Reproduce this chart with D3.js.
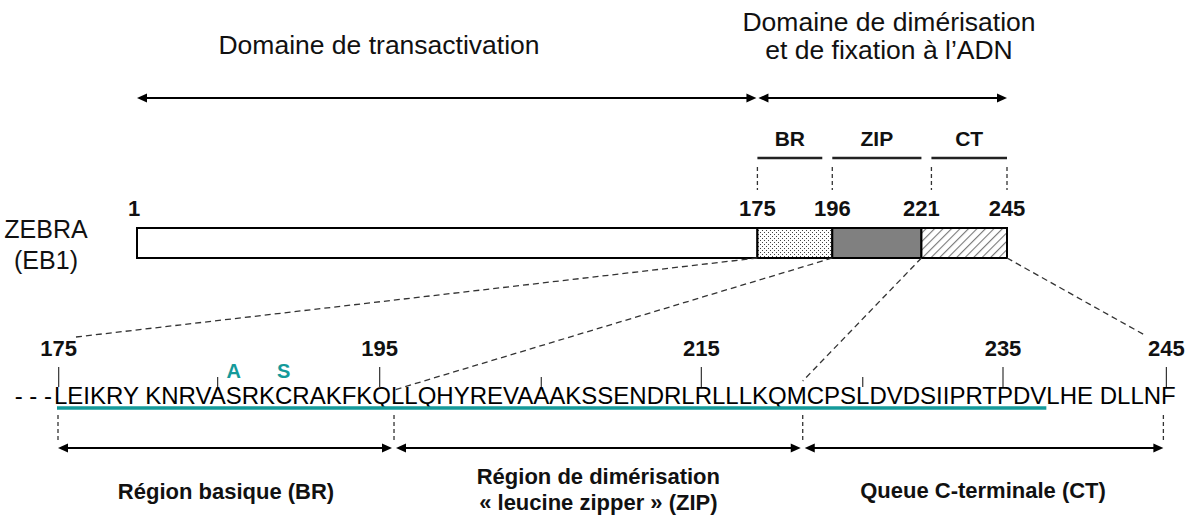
<!DOCTYPE html>
<html><head><meta charset="utf-8">
<script src="https://cdn.jsdelivr.net/npm/d3@7"></script>
<style>body{margin:0;background:#fff}svg{display:block}text{font-family:"Liberation Sans",Arial,sans-serif}</style>
</head><body><svg id="c" width="1193" height="517"></svg>
<script>
// ---------- data ----------
const proteinName = ["ZEBRA", "(EB1)"];
const domainBounds = [1, 175, 196, 221, 245];
const domainKeys = ["TAD", "BR", "ZIP", "CT"];
const domainFills = ["#ffffff", "url(#dots)", "#808080", "url(#hatch)"];
const boundaryLabels = ["1", "175", "196", "221", "245"];
const topTitles = [["Domaine de transactivation"], ["Domaine de dimérisation", "et de fixation à l’ADN"]];
const topRanges = [[1, 175], [175, 245]];
const subdomainNames = ["BR", "ZIP", "CT"];
const sequenceText = "LEIKRY KNRVASRKCRAKFKQLLQHYREVAAAKSSENDRLRLLLKQMCPSLDVDSIIPRTPDVLHE DLLNF";
const sequenceStart = 175;
const majorTicks = [175, 195, 215, 235, 245];
const minorTicks = [185, 205, 225];
const mutationPos = [186, 189];
const mutationAA = ["A", "S"];
const underlineRange = [175, 237];
const regionLabels = [["Région basique (BR)"], ["Région de dimérisation", "« leucine zipper » (ZIP)"], ["Queue C-terminale (CT)"]];
const TEAL = "#149a9a";

// ---------- setup ----------
const svg = d3.select("#c");
svg.append("rect").attr("width", 1193).attr("height", 517).attr("fill", "#fff");
const defs = svg.append("defs");
const dots = defs.append("pattern").attr("id", "dots").attr("width", 4).attr("height", 4).attr("patternUnits", "userSpaceOnUse");
dots.append("rect").attr("width", 4).attr("height", 4).attr("fill", "#fff");
dots.append("rect").attr("width", 1).attr("height", 1).attr("fill", "#444");
dots.append("rect").attr("x", 2).attr("y", 2).attr("width", 1).attr("height", 1).attr("fill", "#444");
const hatch = defs.append("pattern").attr("id", "hatch").attr("width", 6).attr("height", 6)
  .attr("patternUnits", "userSpaceOnUse").attr("patternTransform", "rotate(45)");
hatch.append("rect").attr("width", 6).attr("height", 6).attr("fill", "#fff");
hatch.append("line").attr("x1", 0).attr("y1", 0).attr("x2", 0).attr("y2", 6).attr("stroke", "#777").attr("stroke-width", 2.2);

const x = d3.scaleLinear().domain([domainBounds[0], domainBounds[4]]).range([137, 1007]);

function doubleArrow(x1, x2, y, w) {
  const g = svg.append("g");
  const h = 10, hw = 4.5;
  g.append("line").attr("x1", x1 + 4).attr("x2", x2 - 4).attr("y1", y).attr("y2", y)
    .attr("stroke", "#000").attr("stroke-width", w || 2);
  g.append("path").attr("d", `M${x1},${y}L${x1 + h},${y - hw}L${x1 + h},${y + hw}Z`).attr("fill", "#000");
  g.append("path").attr("d", `M${x2},${y}L${x2 - h},${y - hw}L${x2 - h},${y + hw}Z`).attr("fill", "#000");
}
function dashedLine(x1, y1, x2, y2, dash) {
  svg.append("line").attr("x1", x1).attr("y1", y1).attr("x2", x2).attr("y2", y2)
    .attr("stroke", "#333").attr("stroke-width", 1.3).attr("stroke-dasharray", dash || "6,4");
}

// ---------- top titles and arrows ----------
const titleX = [379, 889];
const titleY = [[54], [31, 59]];
topTitles.forEach((lines, i) => {
  lines.forEach((t, j) => {
    svg.append("text").attr("x", titleX[i]).attr("y", titleY[i][j]).attr("text-anchor", "middle")
      .attr("font-size", 26.5).attr("fill", "#111").text(t);
  });
});
doubleArrow(x(topRanges[0][0]), x(topRanges[0][1]) - 1, 98);
doubleArrow(x(topRanges[1][0]) + 1, x(topRanges[1][1]), 98);

// ---------- sub-domain brackets ----------
const brIns = [[0, 10], [0, 0], [10, 0]];
subdomainNames.forEach((n, i) => {
  const a = x(domainBounds[i + 1]) + brIns[i][0], b = x(domainBounds[i + 2]) - brIns[i][1];
  svg.append("line").attr("x1", a).attr("x2", b).attr("y1", 158).attr("y2", 158)
    .attr("stroke", "#222").attr("stroke-width", 2.5);
  svg.append("text").attr("x", (a + b) / 2).attr("y", 146).attr("text-anchor", "middle")
    .attr("font-size", 21).attr("font-weight", "bold").attr("fill", "#111").text(n);
  dashedLine(a, 167, a, 190, "4,3");
  if (i === 2) dashedLine(b, 167, b, 190, "4,3");
});

// ---------- protein bar ----------
svg.append("g").selectAll("rect").data(domainKeys).join("rect")
  .attr("x", (d, i) => x(domainBounds[i])).attr("width", (d, i) => x(domainBounds[i + 1]) - x(domainBounds[i]))
  .attr("y", 228).attr("height", 30)
  .attr("fill", (d, i) => domainFills[i]).attr("stroke", "#000").attr("stroke-width", 2);
boundaryLabels.forEach((t, i) => {
  svg.append("text").attr("x", x(domainBounds[i]) - (i === 0 ? 3 : 0)).attr("y", 216).attr("text-anchor", "middle")
    .attr("font-size", 22).attr("font-weight", "bold").attr("fill", "#111").text(t);
});
proteinName.forEach((t, j) => {
  svg.append("text").attr("x", 46).attr("y", 238 + j * 31).attr("text-anchor", "middle")
    .attr("font-size", 25).attr("fill", "#111").text(t);
});

// ---------- sequence ----------
svg.append("text").attr("x", 52).attr("y", 404).attr("text-anchor", "end").attr("font-size", 24).text("- - -");
const seq = svg.append("text").attr("x", 54).attr("y", 404).attr("font-size", 24).attr("fill", "#000").text(sequenceText);
const node = seq.node();
const charIdx = {};
let r = sequenceStart;
for (let i = 0; i < sequenceText.length; i++) {
  if (sequenceText[i] !== " ") { charIdx[r] = i; r++; }
}
function ext(res) { return node.getExtentOfChar(charIdx[res]); }
const cStart = res => ext(res).x;
const cEnd = res => { const e = ext(res); return e.x + e.width; };
const cMid = res => { const e = ext(res); return e.x + e.width / 2; };

// ticks
majorTicks.forEach(t => {
  const cx = cMid(t) - 2;
  svg.append("line").attr("x1", cx).attr("x2", cx).attr("y1", 367).attr("y2", 387).attr("stroke", "#333").attr("stroke-width", 1.2);
  svg.append("text").attr("x", cx).attr("y", 356).attr("text-anchor", "middle")
    .attr("font-size", 22).attr("font-weight", "bold").attr("fill", "#111").text(t);
});
minorTicks.forEach(t => {
  const cx = cMid(t);
  svg.append("line").attr("x1", cx).attr("x2", cx).attr("y1", 377).attr("y2", 387).attr("stroke", "#333").attr("stroke-width", 1.2);
});
// mutations
mutationPos.forEach((p, i) => {
  svg.append("text").attr("x", cMid(p)).attr("y", 378).attr("text-anchor", "middle")
    .attr("font-size", 20).attr("font-weight", "bold").attr("fill", TEAL).text(mutationAA[i]);
});
// underline
svg.append("line").attr("x1", cStart(underlineRange[0]) + 3).attr("x2", cEnd(underlineRange[1]))
  .attr("y1", 408).attr("y2", 408).attr("stroke", TEAL).attr("stroke-width", 3.5);

// region boundaries in sequence
const seqB = [cStart(175) + 4, cEnd(195) + 3, cMid(221) + 6, cMid(245) - 5];
seqB.forEach(b => dashedLine(b, 415, b, 441, "4,3"));
for (let i = 0; i < 3; i++) doubleArrow(seqB[i] + (i ? 2 : 0), seqB[i + 1] - (i < 2 ? 2 : 0), 448);
const regY = [[499], [484, 510], [498]];
regionLabels.forEach((lines, i) => {
  lines.forEach((t, j) => {
    svg.append("text").attr("x", (seqB[i] + seqB[i + 1]) / 2).attr("y", regY[i][j]).attr("text-anchor", "middle")
      .attr("font-size", 22).attr("font-weight", "bold").attr("fill", "#111").text(t);
  });
});

// connectors from bar to sequence
const barB = 258;
dashedLine(x(175), barB, cStart(175) + 22, 337);
dashedLine(x(196), barB, seqB[1], 390);
dashedLine(x(221), barB, seqB[2], 381);
dashedLine(x(245), barB, cMid(245) - 22, 336);
</script></body></html>
